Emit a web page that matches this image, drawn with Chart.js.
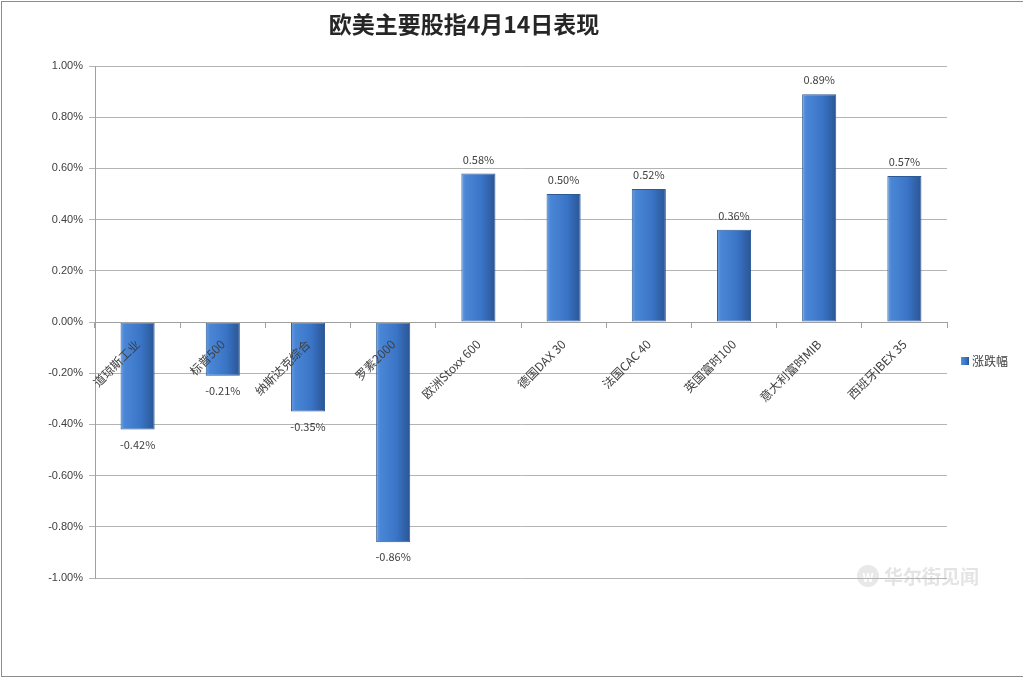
<!DOCTYPE html>
<html>
<head>
<meta charset="utf-8">
<script src="https://cdn.jsdelivr.net/npm/chart.js@4.4.0/dist/chart.umd.min.js"></script>
<style>
html,body{margin:0;padding:0;background:#fff;}
#wrap{position:relative;width:1023px;height:679px;}
canvas{display:block;}
</style>
</head>
<body>
<div id="wrap"><canvas id="c" width="1023" height="679"></canvas></div>
<script>
const categories = ['道琼斯工业','标普500','纳斯达克综合','罗素2000','欧洲Stoxx 600','德国DAX 30','法国CAC 40','英国富时100','意大利富时MIB','西班牙IBEX 35'];
const changes = [-0.42, -0.21, -0.35, -0.86, 0.58, 0.50, 0.52, 0.36, 0.89, 0.57];
const yTicks = [-1.0, -0.8, -0.6, -0.4, -0.2, 0.0, 0.2, 0.4, 0.6, 0.8, 1.0];
const seriesName = '涨跌幅';
const titleText = '欧美主要股指4月14日表现';
const watermarkText = '华尔街见闻';

const FONT = '"Noto Sans CJK SC", "Noto Sans", sans-serif';
const CAT_PCT = 0.8, BAR_PCT = 0.5;

function barGradient(ctx, x0, x1) {
  const g = ctx.createLinearGradient(x0, 0, x1, 0);
  g.addColorStop(0, '#6a9fe0');
  g.addColorStop(0.12, '#4a86d6');
  g.addColorStop(0.6, '#3a74c6');
  g.addColorStop(1, '#2a5594');
  return g;
}

const decorPlugin = {
  id: 'decor',
  beforeDraw(chart) {
    const c = chart.ctx;
    c.save();
    c.fillStyle = '#fff';
    c.fillRect(0, 0, chart.width, chart.height);
    // frame
    c.strokeStyle = '#8c8c8c';
    c.lineWidth = 1;
    c.strokeRect(1.5, 1.5, chart.width + 5, chart.height - 4);
    // watermark
    c.fillStyle = '#e8e8e8';
    c.beginPath();
    c.arc(868, 576, 11, 0, Math.PI * 2);
    c.fill();
    c.fillStyle = '#ffffff';
    c.font = 'bold 12px ' + FONT;
    c.textAlign = 'center';
    c.textBaseline = 'middle';
    c.fillText('W', 868, 577);
    c.fillStyle = '#e4e4e4';
    c.font = 'bold 19px ' + FONT;
    c.textAlign = 'left';
    c.fillText(watermarkText, 884, 577);
    c.restore();
  },
  afterDraw(chart) {
    const c = chart.ctx;
    c.save();
    // title
    c.fillStyle = '#262626';
    c.font = 'bold 23px ' + FONT;
    c.textAlign = 'center';
    c.textBaseline = 'middle';
    c.fillText(titleText, 464, 24);
    // legend
    c.fillStyle = barGradient(c, 961, 969);
    c.fillRect(961, 357, 8, 8);
    c.fillStyle = '#404040';
    c.font = '12px ' + FONT;
    c.textAlign = 'left';
    c.fillText(seriesName, 972, 361);
    // data labels
    const meta = chart.getDatasetMeta(0);
    c.font = '11px ' + FONT;
    c.fillStyle = '#404040';
    c.textAlign = 'center';
    meta.data.forEach((bar, i) => {
      const v = changes[i];
      const y = v >= 0 ? bar.y - 14 : bar.y + 15;
      c.fillText(v.toFixed(2) + '%', bar.x, y);
    });
    c.restore();
  }
};

new Chart(document.getElementById('c'), {
  type: 'bar',
  data: {
    labels: categories,
    datasets: [{
      label: seriesName,
      data: changes,
      categoryPercentage: CAT_PCT,
      barPercentage: BAR_PCT,
      borderWidth: 1,
      borderColor: '#2d5a95',
      borderSkipped: false,
      backgroundColor(ctx) {
        const chart = ctx.chart;
        if (ctx.dataIndex === undefined || !chart.chartArea || !chart.scales.x) return '#3b75c7';
        const x = chart.scales.x.getPixelForValue(ctx.dataIndex);
        const w = chart.chartArea.width / categories.length * CAT_PCT * BAR_PCT;
        return barGradient(chart.ctx, x - w / 2, x + w / 2);
      }
    }]
  },
  options: {
    responsive: false,
    animation: false,
    layout: { padding: { left: 30, right: 76, top: 66, bottom: 101 } },
    plugins: {
      legend: { display: false },
      title: { display: false },
      tooltip: { enabled: false }
    },
    scales: {
      x: {
        position: { y: 0 },
        offset: true,
        grid: { drawOnChartArea: false, offset: true, color: '#a0a0a0', tickLength: 5, z: 1 },
        border: { color: '#a0a0a0', width: 1, z: 1 },
        ticks: {
          z: 2,
          autoSkip: false, minRotation: 45, maxRotation: 45, padding: 10,
          color: '#404040', font: { family: FONT, size: 12 }
        }
      },
      y: {
        min: -1, max: 1,
        afterFit(scale) { scale.width = 65; },
        afterBuildTicks(scale) { scale.ticks = yTicks.map(v => ({ value: v })); },
        grid: { color: '#b4b4b4', tickLength: 6 },
        border: { color: '#a0a0a0' },
        ticks: {
          padding: 6,
          color: '#404040',
          font: { family: '"Liberation Sans", Arial, sans-serif', size: 11 },
          callback: v => Number(v).toFixed(2) + '%'
        }
      }
    }
  },
  plugins: [decorPlugin]
});
</script>
</body>
</html>
